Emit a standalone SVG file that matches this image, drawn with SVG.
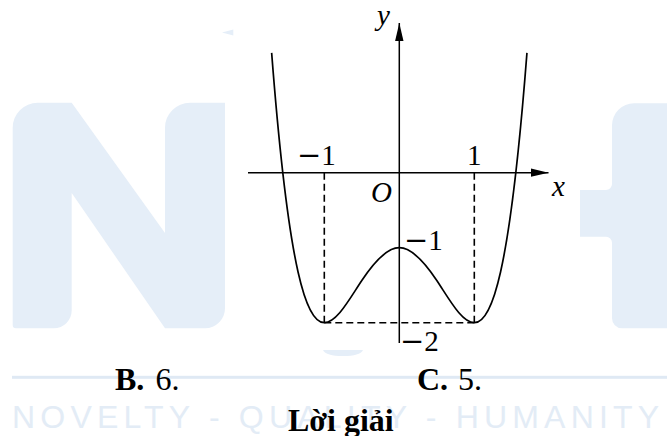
<svg xmlns="http://www.w3.org/2000/svg" width="667" height="436" viewBox="0 0 667 436">
  <defs>
    <style>
      .wm { fill: #e5eef8; }
      .axis { stroke: #000; stroke-width: 1.5; fill: none; }
      .dash { stroke: #000; stroke-width: 1.6; stroke-dasharray: 7 4; fill: none; }
      .curve { stroke: #000; stroke-width: 1.7; fill: none; stroke-linejoin: round; }
      .lbl { font-family: "Liberation Serif", "Times New Roman", serif; font-size: 29px; fill: #000; }
      .it { font-style: italic; }
      .mi { font-family: "DejaVu Serif", serif; }
      .opt { font-family: "Liberation Serif", "Times New Roman", serif; font-size: 32px; fill: #000; }
      .b { font-weight: bold; }
    </style>
    <marker id="arr" viewBox="0 0 18 10" refX="18" refY="5" markerWidth="18" markerHeight="10" markerUnits="userSpaceOnUse" orient="auto">
      <path d="M0,0.8 L18,5 L0,9.2 Z" fill="#000"/>
    </marker>
  </defs>
  <rect width="667" height="436" fill="#fff"/>

  <g id="watermark">
    <path class="wm" d="M12.7,128 A25,25 0 0 1 37.7,102.7 L71.7,102.7 L165,233 L165,128 A25,25 0 0 1 190,102.7 L225,102.7 L225,308 A20,20 0 0 1 205,328.3 L165,328.3 L71.7,193 L71.7,310 A18,18 0 0 1 53.7,328.3 L16,328.3 A3.3,3.3 0 0 1 12.7,325 Z"/>
    <path class="wm" d="M667,103.3 L634,103.3 A22,22 0 0 0 612,125.3 L612,184 A6,6 0 0 1 606,190 L580,190 L580,236.7 L606,236.7 A6,6 0 0 1 612,242.7 L612,318 A10,10 0 0 0 622,328.3 L667,328.3 Z"/>
    <polygon class="wm" points="222,32.5 233.3,29.5 233.3,35.5"/>
    <path class="wm" d="M323,350 L363,350 Q360,356 343,356 Q326,356 323,350 Z"/>
    <rect x="12" y="375.8" width="655" height="3" fill="#dfe9f4"/>
    <text x="12" y="428" font-family="Liberation Sans, Arial, sans-serif" font-size="32" letter-spacing="5.2" fill="#e3ecf6">NOVELTY - QUALITY - HUMANITY</text>
  </g>

  <g id="guides">
    <line class="dash" x1="324.3" y1="172.7" x2="324.3" y2="322.7"/>
    <line class="dash" x1="474.3" y1="172.7" x2="474.3" y2="322.7"/>
    <line class="dash" x1="324.3" y1="322.7" x2="474.3" y2="322.7"/>
  </g>

  <g id="axes">
    <line class="axis" x1="248" y1="172.7" x2="548.5" y2="172.7" marker-end="url(#arr)"/>
    <line class="axis" x1="399.3" y1="343" x2="399.3" y2="23" marker-end="url(#arr)"/>
  </g>

  <g id="graph">
    <path class="curve" d="M271.65,52.86 C280.45,166.5 289.25,232.88 298.05,271.96 C306.8,310.82 315.55,322.7 324.3,322.7 C336.8,322.7 349.3,299.26 361.8,280.51 C374.3,261.76 386.8,247.7 399.3,247.7 C411.8,247.7 424.3,261.76 436.8,280.51 C449.3,299.26 461.8,322.7 474.3,322.7 C483.05,322.7 491.8,310.82 500.55,271.96 C509.35,232.88 518.15,166.5 526.95,52.86"/>
  </g>

  <g id="labels">
    <text class="lbl it" x="377" y="25">y</text>
    <text class="lbl it" x="552" y="196">x</text>
    <text class="lbl it" x="371" y="201.5">O</text>
    <text class="lbl" x="297" y="165"><tspan class="mi">−</tspan>1</text>
    <text class="lbl" x="467" y="165">1</text>
    <text class="lbl" x="404" y="250"><tspan class="mi">−</tspan>1</text>
    <text class="lbl" x="400" y="351"><tspan class="mi">−</tspan>2</text>
  </g>

  <g id="options">
    <text class="opt" x="115" y="390"><tspan class="b">B.</tspan></text>
    <text class="opt" x="155.5" y="390">6.</text>
    <text class="opt" x="417" y="390"><tspan class="b">C.</tspan></text>
    <text class="opt" x="458" y="390">5.</text>
    <text class="opt b" x="288" y="431">Lời giải</text>
  </g>
</svg>
